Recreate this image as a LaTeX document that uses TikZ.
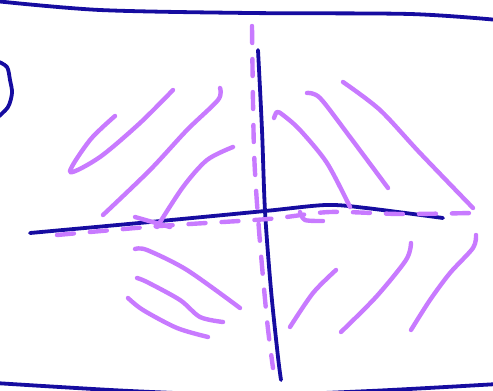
\documentclass[tikz,border=0pt]{standalone}
\usetikzlibrary{arrows.meta}

\begin{document}
\begin{tikzpicture}[x=1pt,y=-1pt]
\tikzset{
  inkblue/.style={draw={rgb,255:red,22;green,12;blue,160},line width=3.8pt,line cap=round,line join=round},
  inkviolet/.style={draw={rgb,255:red,200;green,122;blue,255},line width=4.4pt,line cap=round,line join=round},
  guide/.style={inkviolet,dash pattern=on 17pt off 16pt}
}
\useasboundingbox (0,0) rectangle (493,391);
\clip (0,0) rectangle (493,391);
% frame
\draw[inkblue] plot[smooth] coordinates {(-5,1) (100,10) (250,13) (410,14) (498,20)};
\draw[inkblue] plot[smooth] coordinates {(-5,383) (130,391) (250,395) (370,391) (498,384)};
\draw[inkblue] plot[smooth] coordinates {(-3,61) (7,67) (10,80) (12,93) (8,107) (-3,118)};
% axes
\coordinate (v_top) at (258,50);
\coordinate (v_bot) at (281,380);
\coordinate (h_left) at (30,233);
\coordinate (h_right) at (443,218);
\draw[inkblue] plot[smooth] coordinates {(v_top) (262,130) (265,211) (271,290) (278,357) (v_bot)};
\draw[inkblue] plot[smooth] coordinates {(h_left) (150,222) (265,211) (326,205) (366,208) (h_right)};
% dashed guides
\draw[guide] plot[smooth] coordinates {(252,26) (254,150) (259,230) (267,320) (273,368)};
\draw[guide] plot[smooth] coordinates {(57,235) (160,226) (268,219) (330,212) (400,214) (472,213)};
% upper left
\draw[inkviolet] plot[smooth] coordinates {(115,116) (90,140) (70,172) (100,157) (140,123) (173,90)};
\draw[inkviolet] plot[smooth] coordinates {(220,88) (218,100) (187,130) (150,170) (103,215)};
\draw[inkviolet] plot[smooth] coordinates {(233,147) (207,160) (183,187) (157,227)};
\draw[inkviolet] (135,217) -- (170,227);
% upper right
\draw[inkviolet] plot[smooth] coordinates {(274,118) (277,112) (283,115) (300,130) (327,163) (350,207)};
\draw[inkviolet] plot[smooth] coordinates {(307,93) (320,98) (350,137) (388,188)};
\draw[inkviolet] plot[smooth] coordinates {(343,82) (380,110) (420,153) (473,208)};
\draw[inkviolet] plot[smooth] coordinates {(300,212) (305,220) (323,221)};
% lower left
\draw[inkviolet] plot[smooth] coordinates {(135,249) (147,250) (187,270) (240,308)};
\draw[inkviolet] plot[smooth] coordinates {(137,278) (147,282) (180,300) (200,317) (223,322)};
\draw[inkviolet] plot[smooth] coordinates {(128,298) (143,310) (177,328) (208,337)};
% lower right
\draw[inkviolet] plot[smooth] coordinates {(290,327) (313,293) (336,270)};
\draw[inkviolet] plot[smooth] coordinates {(341,332) (376,297) (406,260) (411,243)};
\draw[inkviolet] plot[smooth] coordinates {(411,330) (430,300) (450,273) (473,248) (476,235)};
\end{tikzpicture}
\end{document}
